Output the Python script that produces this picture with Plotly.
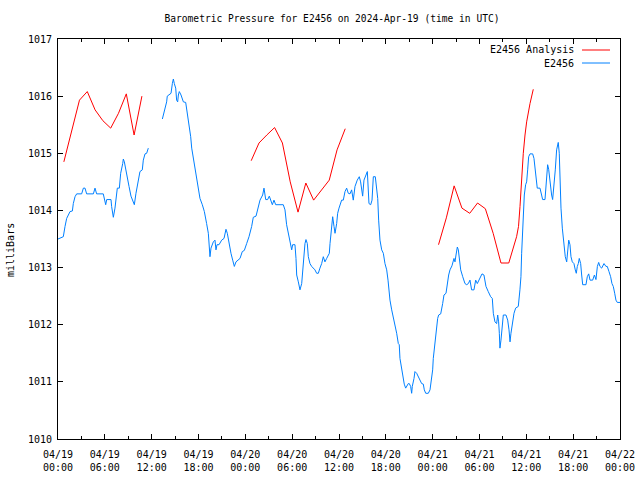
import datetime as dt
import plotly.graph_objects as go

# ---------------- data (hours since 2024-04-19 00:00 UTC, pressure in mb) -------------
START = dt.datetime(2024, 4, 19, 0, 0)

obs_hours = [
    0.00, 0.68, 0.90, 1.11, 1.54, 1.84, 1.96, 2.18, 2.39, 3.03, 3.25, 3.46, 3.67, 4.53, 4.74,
    4.95, 5.80, 5.94, 6.11, 6.24, 6.79, 6.87, 7.09, 7.30, 7.52, 7.60, 7.86, 8.03, 8.29, 8.37,
    8.50, 8.67, 8.88, 9.10, 9.35, 9.65, 9.78, 9.99, 10.21, 10.50, 10.80, 10.93, 11.15, 11.36,
    11.57,
    None,
    13.37, 13.71, 13.92, 14.00, 14.35, 14.48, 14.65, 14.78, 14.90, 15.08, 15.20, 15.33, 15.42,
    15.54, 15.76, 16.06, 16.36, 16.57, 16.78, 17.00, 17.13, 17.34, 17.55, 17.77, 17.98, 18.19,
    18.49, 18.75, 19.04, 19.26, 19.47, 19.60, 19.90, 20.11, 20.24, 20.37, 20.63, 20.97, 21.27,
    21.52, 21.69, 21.91, 22.16, 22.38, 22.59, 22.80, 23.02, 23.32, 23.61, 23.87, 24.17, 24.47,
    24.81, 25.02, 25.37, 25.66, 25.88, 26.22, 26.39, 26.61, 26.86, 27.07, 27.25, 27.46, 27.67,
    27.89, 28.86, 29.08, 29.29, 29.50, 29.72, 29.94, 30.06, 30.36, 30.49, 30.58, 30.79, 31.00,
    31.22, 31.43, 31.64, 31.77, 31.94, 32.07, 32.28, 32.50, 32.71, 32.92, 33.14, 33.35, 33.56,
    33.78, 33.99, 34.20, 34.42, 34.76, 34.85, 35.06, 35.19, 35.36, 35.49, 35.70, 35.83, 36.00,
    36.13, 36.34, 36.55, 36.77, 36.98, 37.19, 37.41, 37.62, 37.83, 38.05, 38.34, 38.60, 38.77,
    39.03, 39.20, 39.46, 39.63, 39.84, 40.06, 40.23, 40.40, 40.65, 40.83, 40.96, 41.08, 41.25,
    41.47, 41.68, 41.89, 42.11, 42.28, 42.44, 42.53, 42.75, 42.96, 43.17, 43.39, 43.60, 43.72,
    43.81, 44.03, 44.24, 44.36, 44.54, 44.67, 44.88, 45.00, 45.18, 45.31, 45.39, 45.61, 45.73,
    45.95, 46.16, 46.38, 46.59, 46.80, 46.93, 47.11, 47.44, 47.66, 47.87, 48.00, 48.08, 48.30,
    48.51, 48.64, 48.77, 49.03, 49.28, 49.45, 49.71, 49.88, 50.05, 50.22, 50.47, 50.73, 50.86,
    50.99, 51.16, 51.29, 51.42, 51.59, 51.85, 52.14, 52.36, 52.57, 52.78, 52.99, 53.29, 53.51,
    53.72, 53.93, 54.15, 54.32, 54.57, 54.83, 55.12, 55.43, 55.64, 55.77, 55.98, 56.20, 56.33,
    56.45, 56.54, 56.62, 56.75, 56.92, 57.05, 57.39, 57.61, 57.78, 57.91, 58.03, 58.20, 58.42,
    58.63, 58.97, 59.18, 59.31, 59.40, 59.53, 59.61, 59.74, 59.91, 60.04, 60.17, 60.30, 60.47,
    60.81, 60.98, 61.11, 61.24, 61.40, 61.75, 61.96, 62.09, 62.39, 62.52, 62.60, 62.73, 62.86,
    63.03, 63.24, 63.37, 63.54, 63.71, 63.88, 64.01, 64.09, 64.22, 64.31, 64.44, 64.61, 64.74,
    64.87, 64.99, 65.17, 65.30, 65.43, 65.59, 65.72, 65.89, 66.10, 66.27, 66.40, 66.53, 66.66,
    66.78, 66.96, 67.09, 67.22, 67.64, 67.81, 67.99, 68.16, 68.50, 68.72, 68.92, 69.10, 69.27,
    69.43, 69.65, 69.95, 70.20, 70.37, 70.59, 70.80, 70.97, 71.14, 71.32, 71.48, 71.65, 72.00,
]
obs_mb = [
    1013.50, 1013.54, 1013.72, 1013.86, 1013.98, 1013.99, 1014.12, 1014.24, 1014.29, 1014.29,
    1014.39, 1014.39, 1014.29, 1014.29, 1014.39, 1014.29, 1014.29, 1014.18, 1014.10, 1014.19,
    1014.19, 1014.07, 1013.88, 1014.04, 1014.30, 1014.39, 1014.39, 1014.65, 1014.82, 1014.90,
    1014.85, 1014.71, 1014.56, 1014.42, 1014.25, 1014.15, 1014.10, 1014.30, 1014.50, 1014.68,
    1014.71, 1014.88, 1014.99, 1015.00, 1015.09,
    None,
    1015.60, 1015.76, 1015.90, 1016.00, 1016.05, 1016.05, 1016.22, 1016.30, 1016.22, 1016.14,
    1015.93, 1015.90, 1016.02, 1016.08, 1016.02, 1015.90, 1015.89, 1015.70, 1015.47, 1015.29,
    1015.09, 1014.91, 1014.77, 1014.59, 1014.36, 1014.21, 1014.10, 1013.98, 1013.77, 1013.60,
    1013.19, 1013.34, 1013.45, 1013.48, 1013.31, 1013.40, 1013.40, 1013.48, 1013.51, 1013.67,
    1013.60, 1013.42, 1013.25, 1013.13, 1013.02, 1013.10, 1013.13, 1013.16, 1013.28, 1013.30,
    1013.42, 1013.54, 1013.72, 1013.88, 1013.90, 1014.04, 1014.18, 1014.27, 1014.39, 1014.19,
    1014.19, 1014.25, 1014.19, 1014.10, 1014.18, 1014.10, 1014.10, 1014.01, 1013.75, 1013.60,
    1013.42, 1013.31, 1013.40, 1013.40, 1013.16, 1012.87, 1012.75, 1012.61, 1012.72, 1013.13,
    1013.42, 1013.49, 1013.42, 1013.19, 1013.07, 1013.02, 1012.99, 1012.96, 1012.90, 1012.90,
    1012.99, 1013.07, 1013.19, 1013.10, 1013.16, 1013.25, 1013.42, 1013.77, 1013.89, 1013.72,
    1013.60, 1013.77, 1013.95, 1014.04, 1014.10, 1014.18, 1014.18, 1014.33, 1014.39, 1014.30,
    1014.29, 1014.36, 1014.18, 1014.42, 1014.53, 1014.59, 1014.50, 1014.25, 1014.53, 1014.62,
    1014.68, 1014.12, 1014.10, 1014.18, 1014.59, 1014.59, 1014.42, 1014.21, 1013.83, 1013.48,
    1013.31, 1013.25, 1013.07, 1012.96, 1012.78, 1012.55, 1012.43, 1012.26, 1012.14, 1011.97,
    1011.85, 1011.67, 1011.65, 1011.41, 1011.24, 1011.03, 1010.96, 1010.89, 1010.92, 1010.97,
    1010.97, 1010.92, 1010.80, 1010.92, 1011.06, 1011.18, 1011.15, 1011.09, 1011.03, 1010.97,
    1010.96, 1010.86, 1010.80, 1010.80, 1010.86, 1011.03, 1011.21, 1011.41, 1011.73, 1012.02,
    1012.11, 1012.17, 1012.19, 1012.37, 1012.52, 1012.55, 1012.72, 1012.87, 1012.96, 1013.03,
    1013.16, 1013.10, 1013.22, 1013.36, 1013.31, 1013.13, 1012.96, 1012.84, 1012.72, 1012.70,
    1012.72, 1012.78, 1012.61, 1012.61, 1012.78, 1012.72, 1012.78, 1012.84, 1012.89, 1012.87,
    1012.67, 1012.58, 1012.49, 1012.46, 1012.20, 1012.05, 1012.02, 1012.17, 1012.05, 1011.85,
    1011.59, 1011.73, 1011.97, 1012.17, 1012.17, 1012.08, 1011.91, 1011.70, 1011.85, 1012.05,
    1012.20, 1012.29, 1012.32, 1012.61, 1012.84, 1013.25, 1013.66, 1014.04, 1014.27, 1014.45,
    1014.50, 1014.71, 1014.94, 1014.99, 1014.99, 1014.91, 1014.71, 1014.56, 1014.39, 1014.39,
    1014.27, 1014.19, 1014.19, 1014.45, 1014.65, 1014.80, 1014.72, 1014.47, 1014.27, 1014.19,
    1014.42, 1014.71, 1015.06, 1015.15, 1015.19, 1015.00, 1014.42, 1014.04, 1013.69, 1013.51,
    1013.40, 1013.19, 1013.10, 1013.40, 1013.48, 1013.40, 1013.19, 1013.10, 1013.07, 1012.96,
    1012.90, 1013.02, 1013.07, 1013.16, 1013.07, 1012.87, 1012.70, 1012.70, 1012.84, 1012.89,
    1012.78, 1012.78, 1012.87, 1012.79, 1013.02, 1013.09, 1013.02, 1012.99, 1013.07, 1013.02,
    1013.02, 1012.93, 1012.84, 1012.72, 1012.67, 1012.55, 1012.43, 1012.39, 1012.39,
]

ana_hours = [
    0.75, 1.75, 2.75, 3.75, 4.75, 5.75, 6.75, 7.75, 8.75, 9.75, 10.75,
    None,
    24.75, 25.75, 26.75, 27.75, 28.75, 29.75, 30.75, 31.75, 32.75, 33.75, 34.75, 35.75, 36.80,
    None,
    48.75, 49.75, 50.75, 51.75, 52.75, 53.75, 54.75, 55.75, 56.75, 57.75, 58.75, 59.00, 59.19,
    59.40, 59.61, 59.83, 60.04, 60.47, 60.89,
]
ana_mb = [
    1014.85, 1015.38, 1015.93, 1016.08, 1015.76, 1015.57, 1015.44, 1015.70, 1016.04, 1015.32,
    1016.00,
    None,
    1014.87, 1015.18, 1015.32, 1015.45, 1015.18, 1014.50, 1013.97, 1014.48, 1014.18, 1014.36,
    1014.53, 1015.06, 1015.43,
    None,
    1013.40, 1013.87, 1014.43, 1014.04, 1013.95, 1014.13, 1014.03, 1013.60, 1013.08, 1013.08,
    1013.54, 1013.72, 1014.07, 1014.59, 1015.00, 1015.32, 1015.55, 1015.87, 1016.12,
]

tick_hours = [0, 6, 12, 18, 24, 30, 36, 42, 48, 54, 60, 66, 72]
tick_labels = [
    "04/19<br>00:00", "04/19<br>06:00", "04/19<br>12:00", "04/19<br>18:00",
    "04/20<br>00:00", "04/20<br>06:00", "04/20<br>12:00", "04/20<br>18:00",
    "04/21<br>00:00", "04/21<br>06:00", "04/21<br>12:00", "04/21<br>18:00",
    "04/22<br>00:00",
]
y_ticks = [1010, 1011, 1012, 1013, 1014, 1015, 1016, 1017]

TITLE = "Barometric Pressure for E2456 on 2024-Apr-19 (time in UTC)"
ANA_NAME = "E2456 Analysis"
OBS_NAME = "E2456"
ANA_COLOR = "#ff0000"
OBS_COLOR = "#0080ff"


def to_time(hours):
    return [None if h is None else START + dt.timedelta(hours=h) for h in hours]


FONT = "DejaVu Sans Mono"

fig = go.Figure()
fig.add_trace(go.Scatter(x=to_time(ana_hours), y=ana_mb, mode="lines", name=ANA_NAME,
                         line=dict(color=ANA_COLOR, width=1), connectgaps=False))
fig.add_trace(go.Scatter(x=to_time(obs_hours), y=obs_mb, mode="lines", name=OBS_NAME,
                         line=dict(color=OBS_COLOR, width=1), connectgaps=False))

fig.update_layout(
    width=640, height=480,
    margin=dict(l=58, r=20, t=39, b=41, pad=0, autoexpand=False),
    paper_bgcolor="white", plot_bgcolor="white",
    showlegend=False,
    font=dict(family=FONT, size=10, color="black"),
    title=dict(text=TITLE, x=332 / 640, xanchor="center", y=1 - 19 / 480, yanchor="middle",
               font=dict(family=FONT, size=9.6, color="black"), automargin=False),
)

fig.update_xaxes(
    type="date", automargin=False,
    range=[START, START + dt.timedelta(hours=72)],
    tickvals=to_time(tick_hours), ticktext=tick_labels,
    ticks="inside", ticklen=5, tickcolor="black", tickwidth=1,
    ticklabelstandoff=6,
    minor=dict(dtick=3 * 3600 * 1000, tick0=START, ticks="inside", ticklen=3,
               tickcolor="black", showgrid=False),
    showline=True, linecolor="black", linewidth=1, mirror="allticks",
    showgrid=False, zeroline=False,
    tickfont=dict(family=FONT, size=10, color="black"),
)
fig.update_yaxes(
    range=[1010, 1017], automargin=False,
    tickvals=y_ticks, ticktext=[str(v) for v in y_ticks],
    ticks="inside", ticklen=5, tickcolor="black", tickwidth=1,
    ticklabelstandoff=3,
    showline=True, linecolor="black", linewidth=1, mirror="allticks",
    showgrid=False, zeroline=False,
    tickfont=dict(family=FONT, size=10, color="black"),
)

# y-axis label
fig.add_annotation(text="milliBars", textangle=-90, xref="paper", yref="paper",
                   x=(10 - 58) / 562, y=(439 - 250) / 400, xanchor="center", yanchor="middle",
                   showarrow=False, font=dict(family=FONT, size=10, color="black"))

# gnuplot-style key (text right-aligned, sample to the right)
for name, color, py in [(ANA_NAME, ANA_COLOR, 50), (OBS_NAME, OBS_COLOR, 63)]:
    yp = (439 - py) / 400
    fig.add_annotation(text=name, xref="paper", yref="paper", x=(576 - 58) / 562, y=yp,
                       xanchor="right", yanchor="middle", showarrow=False,
                       font=dict(family=FONT, size=10, color="black"))
    fig.add_shape(type="line", xref="paper", yref="paper",
                  x0=(582 - 58) / 562, x1=(610 - 58) / 562, y0=yp, y1=yp,
                  line=dict(color=color, width=1))

fig.write_html("out.html", config={"displayModeBar": False},
               post_script="document.body.style.margin='0px';document.body.style.overflow='hidden';")
